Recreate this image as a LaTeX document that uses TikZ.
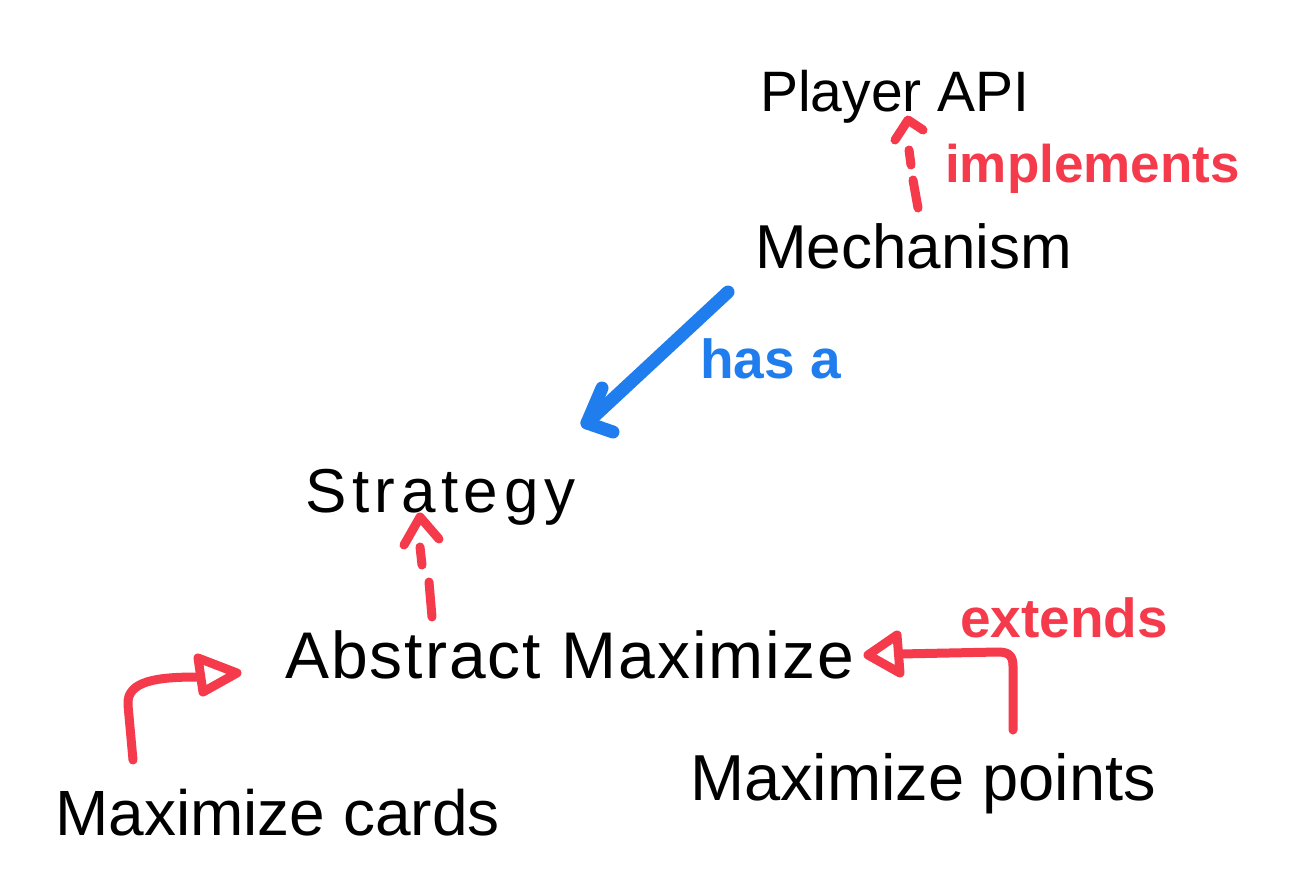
\documentclass[tikz,border=0pt]{standalone}
\usepackage{fontspec}
\setmainfont{Liberation Sans}
\newfontfamily\handsp[LetterSpace=9]{Liberation Sans}
\newfontfamily\handwide[LetterSpace=3]{Liberation Sans}
\definecolor{sketchred}{HTML}{F43A4B}
\definecolor{sketchblue}{HTML}{1F7DEE}
\tikzset{
  lbl/.style={anchor=base west, inner sep=0pt, text=black},
  redlbl/.style={anchor=base west, inner sep=0pt, text=sketchred, font=\bfseries\fontsize{53}{60}\selectfont},
  bluelbl/.style={anchor=base west, inner sep=0pt, text=sketchblue, font=\bfseries\fontsize{55}{60}\selectfont},
  redline/.style={draw=sketchred, line width=9pt, line cap=round, line join=round},
  blueline/.style={draw=sketchblue, line width=13pt, line cap=round, line join=round},
}
\begin{document}
\begin{tikzpicture}[x=1pt,y=-1pt]
\useasboundingbox (0,0) rectangle (1306,872);
\fill[white] (0,0) rectangle (1306,872);

% nodes
\node[lbl, font=\fontsize{57}{60}\selectfont] (api) at (760,112) {Player API};
\node[lbl, font=\fontsize{62}{66}\selectfont] (mech) at (755,268) {Mechanism};
\node[lbl, font=\handsp\fontsize{62}{66}\selectfont] (strat) at (305,512) {Strategy};
\node[lbl, font=\handwide\fontsize{66}{70}\selectfont] (absmax) at (285,678) {Abstract Maximize};
\node[lbl, font=\fontsize{64}{68}\selectfont] (maxcards) at (55,835) {Maximize cards};
\node[lbl, font=\fontsize{65}{68}\selectfont] (maxpoints) at (690,800) {Maximize points};

\node[redlbl] (impl) at (945,182) {implements};
\node[bluelbl] (hasa) at (700,378) {has a};
\node[redlbl, font=\bfseries\fontsize{55}{60}\selectfont] (ext) at (960,637) {extends};

% connector end points
\coordinate (mechTop) at (918,208);
\coordinate (apiBot) at (908,120);
\coordinate (mechLeft) at (728,292);
\coordinate (stratRight) at (587,423);
\coordinate (absTop) at (432,617);
\coordinate (stratBot) at (420,517);
\coordinate (cardsTop) at (133,760);
\coordinate (absLeft) at (237,673);
\coordinate (pointsTop) at (1013,730);
\coordinate (absRight) at (868,655);

% implements: Mechanism -> Player API (dashed, caret head)
\draw[redline] (mechTop) -- (913,180);
\draw[redline] (911,165) -- (909,150);
\draw[redline] (895,140) -- (apiBot) -- (923,130);

% has a: Mechanism -> Strategy
\draw[blueline] (mechLeft) -- (stratRight);
\draw[blueline] (602,388) -- (stratRight) -- (613,432);

% extends: Abstract Maximize -> Strategy
\draw[redline] (absTop) -- (429,582);
\draw[redline] (422,565) -- (420,547);
\draw[redline] (404,545) -- (stratBot) -- (439,539);

% Maximize cards -> Abstract Maximize
\draw[redline] (cardsTop) -- (128,705) .. controls (126,680) and (160,677) .. (198,677);
\draw[redline] (198,658) -- (absLeft) -- (203,692) -- cycle;

% Maximize points -> Abstract Maximize
\draw[redline] (pointsTop) -- (1013,666) .. controls (1013,655) and (1008,652) .. (998,652) -- (900,654);
\draw[redline] (897,635) -- (absRight) -- (900,673) -- cycle;
\end{tikzpicture}
\end{document}
